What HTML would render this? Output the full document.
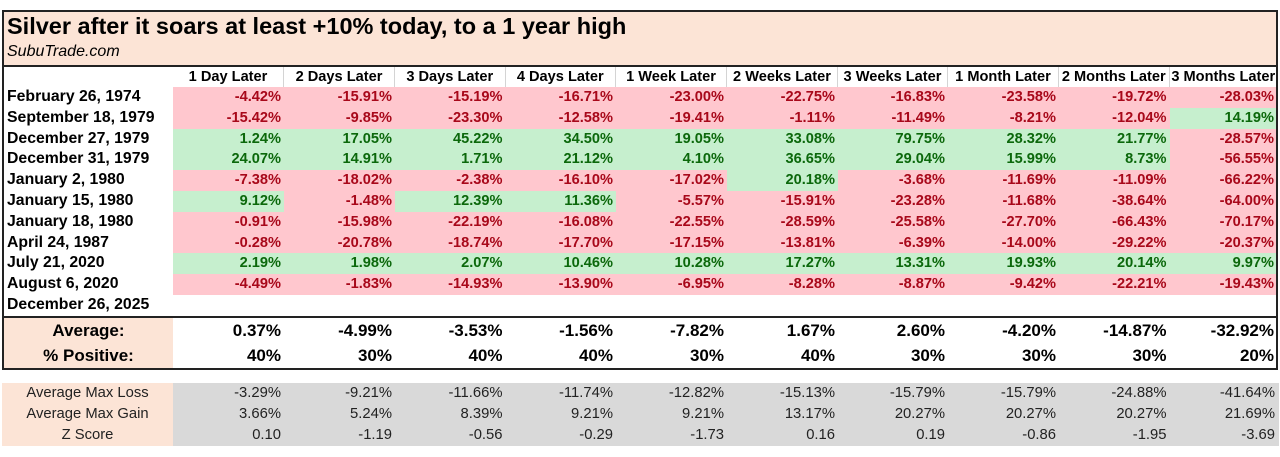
<!DOCTYPE html>
<html><head><meta charset="utf-8">
<style>
html,body{margin:0;padding:0;background:#fff;}
body{width:1280px;height:457px;position:relative;overflow:hidden;font-family:"Liberation Sans",Arial,sans-serif;}
.abs{position:absolute;}
.r{position:absolute;left:4px;width:1273px;display:flex;}
.r>div{box-sizing:border-box;text-align:right;padding-right:3px;white-space:nowrap;overflow:hidden;flex:none;}
.r>div:nth-child(1){width:169px;text-align:left;padding-left:3px;padding-right:0;}
.r>div:nth-child(2){width:111px}
.r>div:nth-child(3){width:111px}
.r>div:nth-child(4){width:110.5px}
.r>div:nth-child(5){width:110.5px}
.r>div:nth-child(6){width:111px}
.r>div:nth-child(7){width:111px}
.r>div:nth-child(8){width:110px}
.r>div:nth-child(9){width:111px}
.r>div:nth-child(10){width:110.5px}
.r>div:nth-child(11){width:107.5px}
.hd{top:67px;height:20px;line-height:20px;font-size:14.6px;font-weight:bold;color:#000;}
.hd>div{text-align:center !important;padding:0 !important;border-right:1px solid #d4d4d4;}
.hd>div:nth-child(1){border-right:none;}
.hd>div:nth-child(11){border-right:none;}
.d{height:20.8px;line-height:20.8px;font-size:14.6px;font-weight:bold;}
.d>div:nth-child(1){font-size:15.8px;color:#000;}
.n{background:#ffc7ce;color:#a8081a;}
.p{background:#c6efce;color:#0b680b;}
.s{height:25px;line-height:25px;font-size:17px;font-weight:bold;color:#000;}
.s>div:nth-child(1){background:#fce4d6;text-align:center;padding:0;}
.g{left:2px;width:1277px;height:21px;line-height:21px;font-size:14.8px;color:#222;}
.g>div:nth-child(1){width:171px;background:#fce4d6;text-align:center;padding:0;}
.g>div{background:#d9d9d9;}
.g>div:nth-child(11){width:109.5px;padding-right:4px;}
</style></head><body>

<!-- title band -->
<div class="abs" style="left:4px;top:12px;width:1272px;height:53px;background:#fce4d6;"></div>
<div class="abs" style="left:7px;top:15.1px;font-size:23.5px;line-height:23.5px;font-weight:bold;color:#000;white-space:nowrap;">Silver after it soars at least +10% today, to a 1 year high</div>
<div class="abs" style="left:7px;top:43.5px;font-size:16px;line-height:16px;font-style:italic;color:#000;white-space:nowrap;">SubuTrade.com</div>

<!-- header -->
<div class="r hd"><div></div><div>1 Day Later</div><div>2 Days Later</div><div>3 Days Later</div><div>4 Days Later</div><div>1 Week Later</div><div>2 Weeks Later</div><div>3 Weeks Later</div><div>1 Month Later</div><div>2 Months Later</div><div>3 Months Later</div></div>

<!-- data rows -->
<div class="r d" style="top:87px"><div>February 26, 1974</div><div class="n">-4.42%</div><div class="n">-15.91%</div><div class="n">-15.19%</div><div class="n">-16.71%</div><div class="n">-23.00%</div><div class="n">-22.75%</div><div class="n">-16.83%</div><div class="n">-23.58%</div><div class="n">-19.72%</div><div class="n">-28.03%</div></div>
<div class="r d" style="top:107.8px"><div>September 18, 1979</div><div class="n">-15.42%</div><div class="n">-9.85%</div><div class="n">-23.30%</div><div class="n">-12.58%</div><div class="n">-19.41%</div><div class="n">-1.11%</div><div class="n">-11.49%</div><div class="n">-8.21%</div><div class="n">-12.04%</div><div class="p">14.19%</div></div>
<div class="r d" style="top:128.6px"><div>December 27, 1979</div><div class="p">1.24%</div><div class="p">17.05%</div><div class="p">45.22%</div><div class="p">34.50%</div><div class="p">19.05%</div><div class="p">33.08%</div><div class="p">79.75%</div><div class="p">28.32%</div><div class="p">21.77%</div><div class="n">-28.57%</div></div>
<div class="r d" style="top:149.4px"><div>December 31, 1979</div><div class="p">24.07%</div><div class="p">14.91%</div><div class="p">1.71%</div><div class="p">21.12%</div><div class="p">4.10%</div><div class="p">36.65%</div><div class="p">29.04%</div><div class="p">15.99%</div><div class="p">8.73%</div><div class="n">-56.55%</div></div>
<div class="r d" style="top:170.2px"><div>January 2, 1980</div><div class="n">-7.38%</div><div class="n">-18.02%</div><div class="n">-2.38%</div><div class="n">-16.10%</div><div class="n">-17.02%</div><div class="p">20.18%</div><div class="n">-3.68%</div><div class="n">-11.69%</div><div class="n">-11.09%</div><div class="n">-66.22%</div></div>
<div class="r d" style="top:191px"><div>January 15, 1980</div><div class="p">9.12%</div><div class="n">-1.48%</div><div class="p">12.39%</div><div class="p">11.36%</div><div class="n">-5.57%</div><div class="n">-15.91%</div><div class="n">-23.28%</div><div class="n">-11.68%</div><div class="n">-38.64%</div><div class="n">-64.00%</div></div>
<div class="r d" style="top:211.8px"><div>January 18, 1980</div><div class="n">-0.91%</div><div class="n">-15.98%</div><div class="n">-22.19%</div><div class="n">-16.08%</div><div class="n">-22.55%</div><div class="n">-28.59%</div><div class="n">-25.58%</div><div class="n">-27.70%</div><div class="n">-66.43%</div><div class="n">-70.17%</div></div>
<div class="r d" style="top:232.6px"><div>April 24, 1987</div><div class="n">-0.28%</div><div class="n">-20.78%</div><div class="n">-18.74%</div><div class="n">-17.70%</div><div class="n">-17.15%</div><div class="n">-13.81%</div><div class="n">-6.39%</div><div class="n">-14.00%</div><div class="n">-29.22%</div><div class="n">-20.37%</div></div>
<div class="r d" style="top:253.4px"><div>July 21, 2020</div><div class="p">2.19%</div><div class="p">1.98%</div><div class="p">2.07%</div><div class="p">10.46%</div><div class="p">10.28%</div><div class="p">17.27%</div><div class="p">13.31%</div><div class="p">19.93%</div><div class="p">20.14%</div><div class="p">9.97%</div></div>
<div class="r d" style="top:274.2px"><div>August 6, 2020</div><div class="n">-4.49%</div><div class="n">-1.83%</div><div class="n">-14.93%</div><div class="n">-13.90%</div><div class="n">-6.95%</div><div class="n">-8.28%</div><div class="n">-8.87%</div><div class="n">-9.42%</div><div class="n">-22.21%</div><div class="n">-19.43%</div></div>
<div class="r d" style="top:295px"><div>December 26, 2025</div><div></div><div></div><div></div><div></div><div></div><div></div><div></div><div></div><div></div><div></div></div>

<!-- summary -->
<div class="r s" style="top:318px"><div>Average:</div><div>0.37%</div><div>-4.99%</div><div>-3.53%</div><div>-1.56%</div><div>-7.82%</div><div>1.67%</div><div>2.60%</div><div>-4.20%</div><div>-14.87%</div><div>-32.92%</div></div>
<div class="r s" style="top:343px"><div>% Positive:</div><div>40%</div><div>30%</div><div>40%</div><div>40%</div><div>30%</div><div>40%</div><div>30%</div><div>30%</div><div>30%</div><div>20%</div></div>

<!-- gray section -->
<div class="r g" style="top:383px"><div>Average Max Loss</div><div>-3.29%</div><div>-9.21%</div><div>-11.66%</div><div>-11.74%</div><div>-12.82%</div><div>-15.13%</div><div>-15.79%</div><div>-15.79%</div><div>-24.88%</div><div>-41.64%</div></div>
<div class="r g" style="top:404px"><div>Average Max Gain</div><div>3.66%</div><div>5.24%</div><div>8.39%</div><div>9.21%</div><div>9.21%</div><div>13.17%</div><div>20.27%</div><div>20.27%</div><div>20.27%</div><div>21.69%</div></div>
<div class="r g" style="top:425px"><div>Z Score</div><div>0.10</div><div>-1.19</div><div>-0.56</div><div>-0.29</div><div>-1.73</div><div>0.16</div><div>0.19</div><div>-0.86</div><div>-1.95</div><div>-3.69</div></div>

<!-- borders / lines -->
<div class="abs" style="left:2px;top:10px;width:1276px;height:2px;background:#222;"></div>
<div class="abs" style="left:2px;top:10px;width:2px;height:360px;background:#222;"></div>
<div class="abs" style="left:1276px;top:10px;width:2px;height:360px;background:#222;"></div>
<div class="abs" style="left:2px;top:368px;width:1276px;height:2px;background:#222;"></div>
<div class="abs" style="left:2px;top:65px;width:1276px;height:2px;background:#222;"></div>
<div class="abs" style="left:2px;top:316px;width:1276px;height:2px;background:#222;"></div>

</body></html>
